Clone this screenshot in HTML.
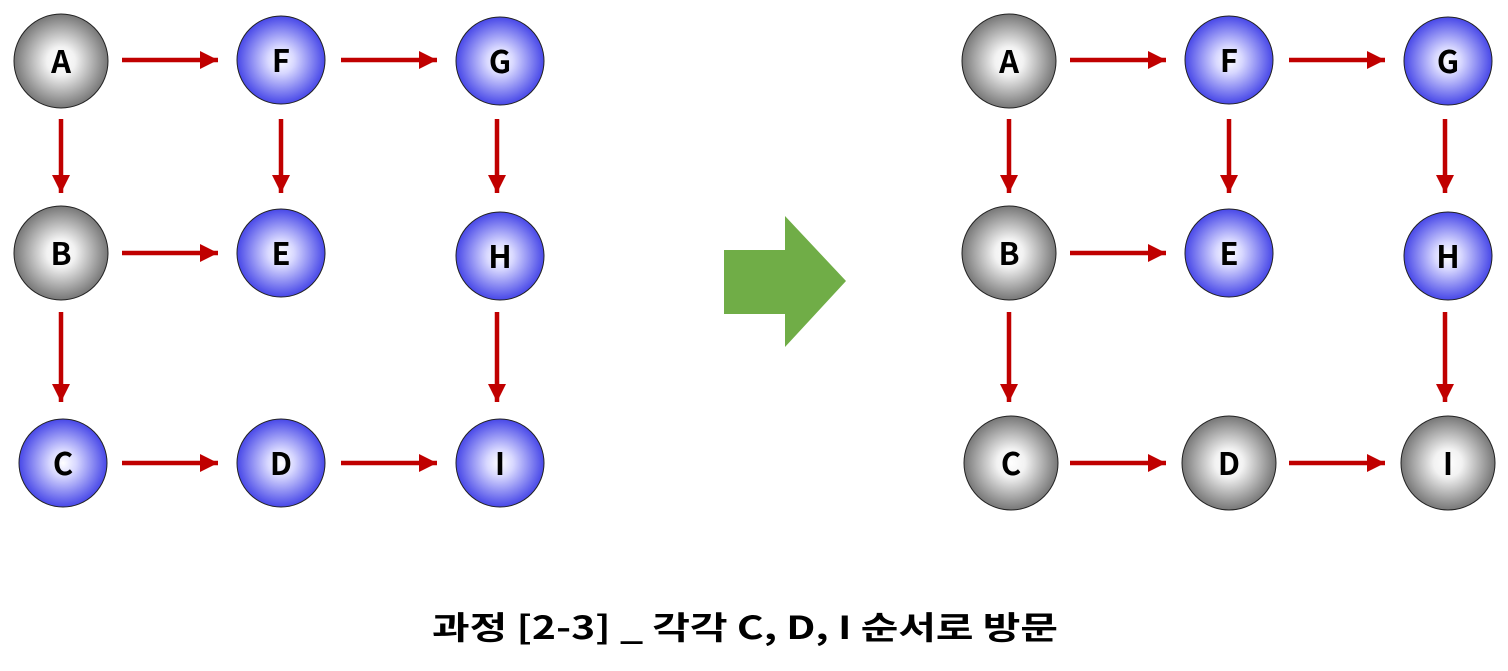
<!DOCTYPE html>
<html><head><meta charset="utf-8"><style>
body{margin:0;background:#fff;}
svg{display:block;}
text{font-family:"Noto Sans CJK KR","Liberation Sans",sans-serif;font-weight:bold;}
</style></head><body>
<svg width="1508" height="671" viewBox="0 0 1508 671">
<defs>
<radialGradient id="g" cx="50%" cy="50%" r="50%"><stop offset="0" stop-color="#fff"/><stop offset="0.3" stop-color="#f2f2f2"/><stop offset="1" stop-color="#777"/></radialGradient>
<radialGradient id="b" cx="50%" cy="50%" r="50%"><stop offset="0" stop-color="#fff"/><stop offset="0.3" stop-color="#d8d8ff"/><stop offset="1" stop-color="#4848e8"/></radialGradient>
<marker id="m" viewBox="0 0 10 10" refX="10" refY="5" markerWidth="4" markerHeight="4.4" orient="auto" markerUnits="strokeWidth"><path d="M0,0L10,5L0,10z" fill="#c00000"/></marker>
</defs>
<g stroke="#c00000" stroke-width="4.5" marker-end="url(#m)">
<line x1="122" y1="60" x2="218" y2="60"/><line x1="341" y1="60" x2="437" y2="60"/>
<line x1="122" y1="253" x2="218" y2="253"/>
<line x1="122" y1="463" x2="218" y2="463"/><line x1="341" y1="463" x2="437" y2="463"/>
<line x1="61" y1="119" x2="61" y2="193"/><line x1="281" y1="119" x2="281" y2="193"/><line x1="497" y1="119" x2="497" y2="193"/>
<line x1="61" y1="312" x2="61" y2="402"/><line x1="497" y1="312" x2="497" y2="402"/>
<line x1="1070" y1="60" x2="1166" y2="60"/><line x1="1289" y1="60" x2="1385" y2="60"/>
<line x1="1070" y1="253" x2="1166" y2="253"/>
<line x1="1070" y1="463" x2="1166" y2="463"/><line x1="1289" y1="463" x2="1385" y2="463"/>
<line x1="1009" y1="119" x2="1009" y2="193"/><line x1="1229" y1="119" x2="1229" y2="193"/><line x1="1445" y1="119" x2="1445" y2="193"/>
<line x1="1009" y1="312" x2="1009" y2="402"/><line x1="1445" y1="312" x2="1445" y2="402"/>
</g>
<g stroke="#222" stroke-width="1">
<circle cx="61" cy="61" r="47" fill="url(#g)"/><circle cx="281" cy="60" r="44" fill="url(#b)"/><circle cx="500" cy="61" r="44" fill="url(#b)"/>
<circle cx="61" cy="253" r="47" fill="url(#g)"/><circle cx="281" cy="253" r="44" fill="url(#b)"/><circle cx="500" cy="256" r="44" fill="url(#b)"/>
<circle cx="63" cy="463" r="44" fill="url(#b)"/><circle cx="281" cy="463" r="44" fill="url(#b)"/><circle cx="500" cy="463" r="44" fill="url(#b)"/>
<circle cx="1009" cy="61" r="47" fill="url(#g)"/><circle cx="1229" cy="60" r="44" fill="url(#b)"/><circle cx="1448" cy="61" r="44" fill="url(#b)"/>
<circle cx="1009" cy="253" r="47" fill="url(#g)"/><circle cx="1229" cy="253" r="44" fill="url(#b)"/><circle cx="1448" cy="256" r="44" fill="url(#b)"/>
<circle cx="1011" cy="463" r="47" fill="url(#g)"/><circle cx="1229" cy="463" r="47" fill="url(#g)"/><circle cx="1448" cy="463" r="47" fill="url(#g)"/>
</g>
<g font-size="31" text-anchor="middle" fill="#000">
<text x="61" y="73">A</text><text x="281" y="72">F</text><text x="500" y="73">G</text>
<text x="61" y="265">B</text><text x="281" y="265">E</text><text x="500" y="268">H</text>
<text x="63" y="475">C</text><text x="281" y="475">D</text><text x="500" y="475">I</text>
<text x="1009" y="73">A</text><text x="1229" y="72">F</text><text x="1448" y="73">G</text>
<text x="1009" y="265">B</text><text x="1229" y="265">E</text><text x="1448" y="268">H</text>
<text x="1011" y="475">C</text><text x="1229" y="475">D</text><text x="1448" y="475">I</text>
</g>
<path d="M724,250H785V216L846,281L785,347V314H724Z" fill="#70ad47"/>
<text x="745" y="639" font-size="32" text-anchor="middle" textLength="626" lengthAdjust="spacingAndGlyphs">과정 [2-3] _ 각각 C, D, I 순서로 방문</text>
</svg>
</body></html>
